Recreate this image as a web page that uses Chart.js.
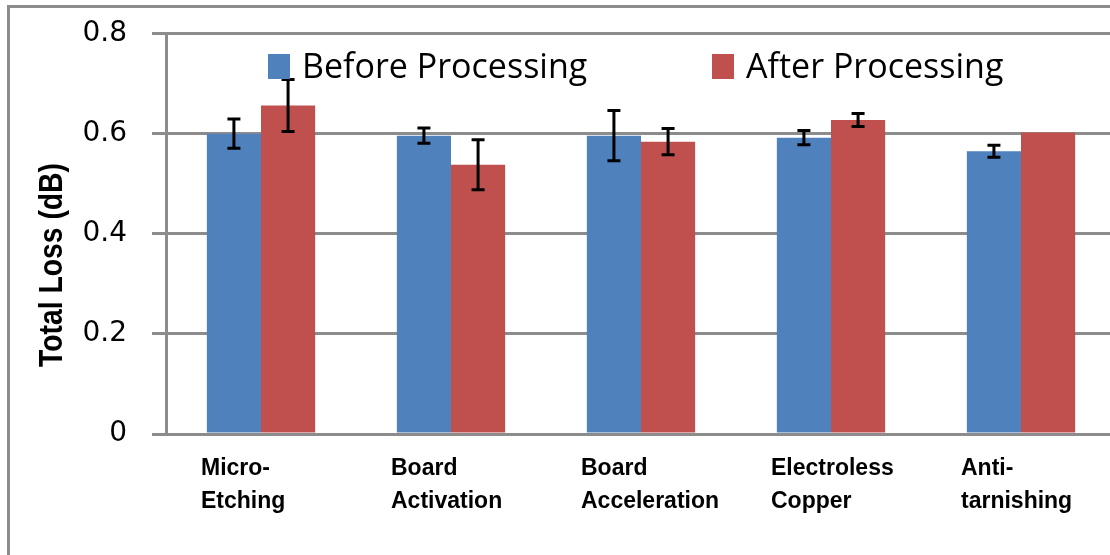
<!DOCTYPE html>
<html>
<head>
<meta charset="utf-8">
<script src="https://cdn.jsdelivr.net/npm/chart.js@4/dist/chart.umd.min.js"></script>
<style>
  html, body { margin: 0; padding: 0; background: #fff; overflow: hidden; width: 1110px; height: 555px; }
  #frame { position: absolute; left: 7px; top: 5px; width: 1200px; height: 700px;
           border-left: 3px solid #8c8c8c; border-top: 3px solid #8c8c8c; box-sizing: border-box; }
  #chart { position: absolute; left: 0; top: 0; }
</style>
</head>
<body>
<div id="frame"></div>
<canvas id="chart" width="1116" height="555"></canvas>
<script>
// Process steps (two-line category labels)
const categories = [
  ["Micro-", "Etching"],
  ["Board", "Activation"],
  ["Board", "Acceleration"],
  ["Electroless", "Copper"],
  ["Anti-", "tarnishing"]
];
const seriesNames = ["Before Processing", "After Processing"];

// Total loss in dB and its error (±)
const beforeValues = [0.600, 0.596, 0.596, 0.592, 0.565];
const beforeErrors = [0.029, 0.015, 0.050, 0.014, 0.012];
const afterValues  = [0.656, 0.538, 0.584, 0.627, 0.602];
const afterErrors  = [0.052, 0.050, 0.026, 0.013, null];

const yTicks = [0, 0.2, 0.4, 0.6, 0.8];
const yTitle = "Total Loss (dB)";

const GRID = '#8c8c8c';
const BLUE = '#4f81bd';
const RED = '#c0504d';

// Error bars drawn on top of each bar from the error arrays
const errorBars = {
  id: 'errorBars',
  afterDatasetsDraw(chart, args, opts) {
    const ctx = chart.ctx;
    const y = chart.scales.y;
    ctx.save();
    ctx.strokeStyle = opts.color;
    ctx.lineWidth = opts.lineWidth;
    chart.data.datasets.forEach((ds, i) => {
      const meta = chart.getDatasetMeta(i);
      meta.data.forEach((bar, j) => {
        const err = ds.errors[j];
        if (err == null) return;
        const v = ds.data[j];
        const top = y.getPixelForValue(v + err);
        const bot = y.getPixelForValue(v - err);
        const x = bar.x;
        const hw = opts.capWidth / 2;
        ctx.beginPath();
        ctx.moveTo(x, top); ctx.lineTo(x, bot);
        ctx.moveTo(x - hw, top); ctx.lineTo(x + hw, top);
        ctx.moveTo(x - hw, bot); ctx.lineTo(x + hw, bot);
        ctx.stroke();
      });
    });
    ctx.restore();
  }
};

// Legend inside the plot and the rotated value-axis title
const overlayText = {
  id: 'overlayText',
  afterDraw(chart, args, opts) {
    const ctx = chart.ctx;
    ctx.save();
    const lg = opts.legend;
    ctx.font = lg.font;
    ctx.textBaseline = 'alphabetic';
    ctx.textAlign = 'left';
    chart.data.datasets.forEach((ds, i) => {
      const bx = lg.x[i];
      ctx.fillStyle = ds.backgroundColor;
      ctx.fillRect(bx, lg.boxTop, lg.boxW, lg.boxH);
      ctx.fillStyle = '#000';
      ctx.fillText(ds.label, bx + lg.boxW + lg.gap, lg.baseline);
    });
    const t = opts.title;
    ctx.translate(t.x, t.y);
    ctx.rotate(-Math.PI / 2);
    ctx.font = t.font;
    // condense the bold title along its reading direction
    const w = ctx.measureText(t.text).width;
    ctx.scale(t.length / w, 1);
    ctx.textAlign = 'center';
    ctx.fillStyle = '#000';
    ctx.fillText(t.text, 0, 0);
    ctx.restore();
  }
};

new Chart(document.getElementById('chart'), {
  type: 'bar',
  data: {
    labels: categories,
    datasets: [
      { label: seriesNames[0], data: beforeValues, errors: beforeErrors, backgroundColor: BLUE },
      { label: seriesNames[1], data: afterValues, errors: afterErrors, backgroundColor: RED }
    ]
  },
  options: {
    responsive: false,
    animation: false,
    layout: { padding: { left: 0, top: 33.5, right: 0, bottom: 0 } },
    datasets: { bar: { categoryPercentage: 0.57, barPercentage: 1.0 } },
    scales: {
      x: {
        grid: { display: false },
        border: { display: true, color: GRID, width: 3 },
        ticks: {
          align: 'start',
          labelOffset: -60,
          padding: 10,
          maxRotation: 0,
          autoSkip: false,
          color: '#000',
          font: { family: "'Liberation Sans', Arial, sans-serif", size: 23, weight: 'bold', lineHeight: 1.45 }
        },
        afterFit(scale) {
          scale.height = 121;
          scale.paddingLeft = 0;
          scale.paddingRight = 0;
        }
      },
      y: {
        min: 0,
        max: 0.8,
        afterBuildTicks(scale) { scale.ticks = yTicks.map(v => ({ value: v })); },
        grid: { color: GRID, lineWidth: 3, tickLength: 14, tickColor: GRID, tickWidth: 3 },
        border: { display: true, color: GRID, width: 3 },
        ticks: {
          padding: 25,
          color: '#000',
          font: { family: "'DejaVu Sans', sans-serif", size: 28 }
        },
        afterFit(scale) {
          scale.width = 166;
          scale.paddingTop = 0;
          scale.paddingBottom = 0;
        }
      }
    },
    plugins: {
      legend: { display: false },
      tooltip: { enabled: false },
      errorBars: { color: '#000', lineWidth: 3, capWidth: 13 },
      overlayText: {
        legend: {
          x: [268, 712], boxTop: 54, boxW: 22, boxH: 25, gap: 12, baseline: 78,
          font: "34px 'Open Sans', sans-serif"
        },
        title: {
          text: yTitle, x: 62, y: 265, length: 204,
          font: "bold 33px 'Liberation Sans', sans-serif"
        }
      }
    }
  },
  plugins: [errorBars, overlayText]
});
</script>
</body>
</html>
